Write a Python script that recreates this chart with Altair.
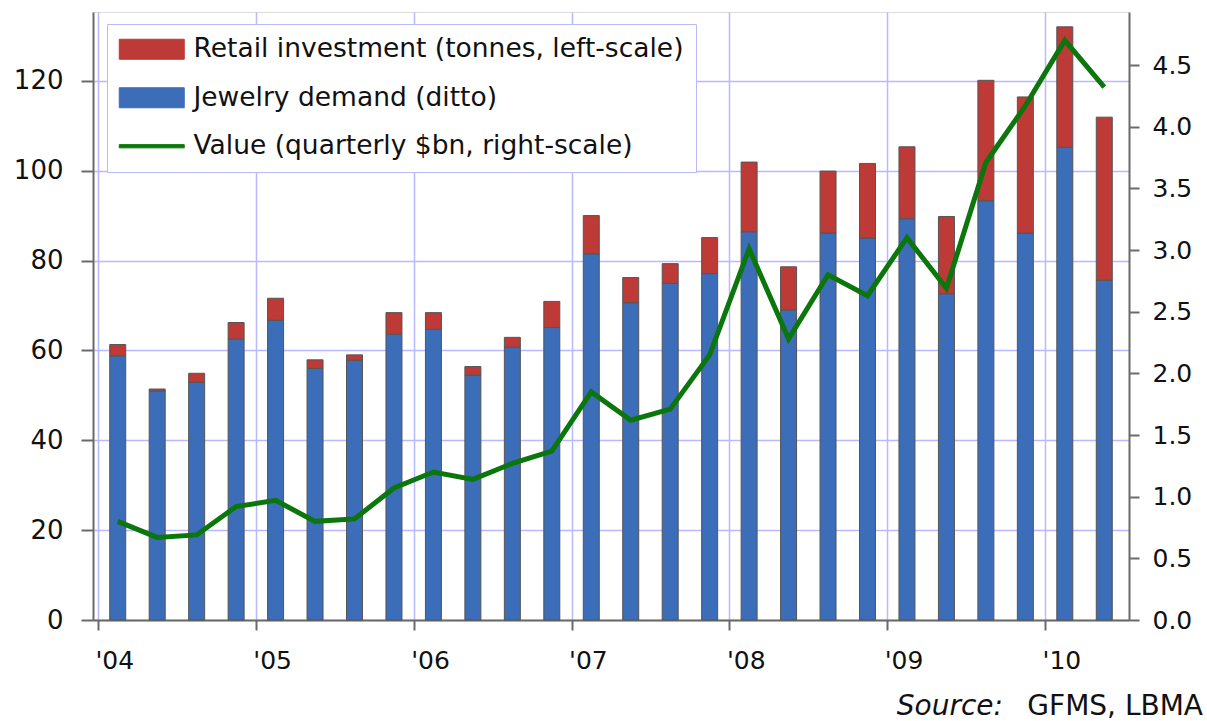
import json
import altair as alt
import pandas as pd

# ---- data (Q1 2004 .. Q2 2010) ----
quarters = ["Q1 04", "Q2 04", "Q3 04", "Q4 04", "Q1 05", "Q2 05", "Q3 05", "Q4 05",
            "Q1 06", "Q2 06", "Q3 06", "Q4 06", "Q1 07", "Q2 07", "Q3 07", "Q4 07",
            "Q1 08", "Q2 08", "Q3 08", "Q4 08", "Q1 09", "Q2 09", "Q3 09", "Q4 09",
            "Q1 10", "Q2 10"]
jewelry = [58.8, 51.0, 52.9, 62.5, 66.7, 56.0, 57.8, 63.6, 64.7, 54.5, 60.7, 65.1, 81.5,
           70.6, 74.9, 77.1, 86.4, 69.0, 86.1, 85.0, 89.3, 72.6, 93.3, 86.1, 105.2, 75.6]
retail = [2.5, 0.4, 2.0, 3.7, 4.9, 1.9, 1.2, 4.8, 3.7, 1.9, 2.2, 5.8, 8.5,
          5.6, 4.4, 8.0, 15.5, 9.6, 13.8, 16.6, 16.0, 17.2, 26.8, 30.3, 26.8, 36.3]
value_bn = [0.80, 0.67, 0.69, 0.92, 0.97, 0.80, 0.82, 1.07, 1.20, 1.14, 1.27, 1.37, 1.85,
            1.62, 1.71, 2.15, 3.01, 2.28, 2.80, 2.63, 3.10, 2.69, 3.71, 4.17, 4.70, 4.32]
year_labels = ["'04", "'05", "'06", "'07", "'08", "'09", "'10"]
series_names = ["Retail investment (tonnes, left-scale)",
                "Jewelry demand (ditto)",
                "Value (quarterly $bn, right-scale)"]
source_prefix = "Source:"
source_text = "GFMS, LBMA"

RED = "#bd3a36"
BLUE = "#3b6db8"
GREEN = "#0b760b"
GRID = "#b9b9ff"
AXIS = "#6a6a6a"
FONT = "DejaVu Sans"

W, H = 1036, 608

rows = []
for i, q in enumerate(quarters):
    rows.append({"q": q, "pos": i + 0.5, "series": series_names[1], "val": jewelry[i], "ord": 0})
    rows.append({"q": q, "pos": i + 0.5, "series": series_names[0], "val": retail[i], "ord": 1})
bars_df = pd.DataFrame(rows)
line_df = pd.DataFrame({"q": quarters, "pos": [i + 0.5 for i in range(len(quarters))],
                        "val": value_bn, "series": series_names[2]})

color_scale = alt.Scale(domain=series_names, range=[RED, BLUE, GREEN])
# legend symbols: wide box for the bars, thin stroke for the line
shape_scale = alt.Scale(domain=series_names,
                        range=["M-1.3,-1H5.2V1H-1.3Z", "M-1.3,-1H5.2V1H-1.3Z",
                               "M-1.3,-0.16H5.2V0.16H-1.3Z"])

legend = alt.Legend(title=None, orient="none", legendX=14, legendY=12,
                    labelFont=FONT, labelFontSize=26.5, labelColor="#111",
                    symbolSize=400, symbolStrokeColor="#6a6a6a", symbolStrokeWidth=1,
                    symbolOpacity=1, labelOffset=48, rowPadding=21.5, padding=12,
                    fillColor="white", strokeColor=GRID, labelLimit=800)

x_enc = alt.X("pos:Q", scale=alt.Scale(domain=[0, len(quarters)], nice=False, zero=False),
              axis=alt.Axis(values=[0, 4, 8, 12, 16, 20, 24], title=None,
                            labelExpr=json.dumps(year_labels) + "[datum.value / 4]",
                            labelAlign="left", labelBaseline="top", labelPadding=18,
                            labelOffset=-3,
                            labelFont=FONT, labelFontSize=25, labelColor="#111",
                            tickSize=10, tickColor=AXIS, tickWidth=2,
                            domainColor=AXIS, domainWidth=2,
                            grid=True, gridColor=GRID, gridWidth=1.5))

bars = alt.Chart(bars_df).mark_bar(size=16, stroke="#555", strokeWidth=1).encode(
    x=x_enc,
    y=alt.Y("val:Q", stack="zero", scale=alt.Scale(domain=[0, 135.3], nice=False),
            axis=alt.Axis(orient="left", values=[0, 20, 40, 60, 80, 100, 120], title=None,
                          labelFont=FONT, labelFontSize=26, labelColor="#111",
                          labelPadding=18, tickSize=12, tickColor=AXIS, tickWidth=2,
                          domainColor=AXIS, domainWidth=2,
                          grid=True, gridColor=GRID, gridWidth=1.5)),
    color=alt.Color("series:N", scale=color_scale, legend=legend),
    order=alt.Order("ord:Q"),
)

line = alt.Chart(line_df).mark_line(strokeWidth=5).encode(
    x=alt.X("pos:Q"),
    y=alt.Y("val:Q", scale=alt.Scale(domain=[0, 4.93], nice=False),
            axis=alt.Axis(orient="right", values=[0, 0.5, 1, 1.5, 2, 2.5, 3, 3.5, 4, 4.5],
                          format=".1f", title=None, labelFont=FONT, labelFontSize=25,
                          labelColor="#111", labelPadding=13, tickSize=10,
                          tickColor=AXIS, tickWidth=2, domainColor=AXIS, domainWidth=2,
                          grid=False)),
    color=alt.Color("series:N", scale=color_scale, legend=legend),
)

legend_pts = alt.Chart(line_df).mark_point(filled=True, opacity=1).encode(
    x=alt.X("pos:Q"),
    color=alt.Color("series:N", scale=color_scale, legend=legend),
    shape=alt.Shape("series:N", scale=shape_scale, legend=legend),
).transform_filter("false")

src_df = pd.DataFrame({"a": [source_prefix], "b": [source_text]})
src1 = alt.Chart(src_df).mark_text(align="right", baseline="alphabetic", font=FONT,
                                   fontSize=28, fontStyle="italic", color="#111").encode(
    text="a:N", x=alt.value(W - 126), y=alt.value(H + 95))
src2 = alt.Chart(src_df).mark_text(align="right", baseline="alphabetic", font=FONT,
                                   fontSize=28, color="#111").encode(
    text="b:N", x=alt.value(W + 74), y=alt.value(H + 95))

chart = alt.layer(bars, line, legend_pts, src1, src2).resolve_scale(
    y="independent"
).properties(
    width=W, height=H, autosize=alt.AutoSizeParams(type="none"),
    padding={"left": 93, "top": 12, "right": 78, "bottom": 101},
).configure_view(stroke=None).configure(background="white")

chart.save("out.html", embed_options={"renderer": "svg", "actions": False})
